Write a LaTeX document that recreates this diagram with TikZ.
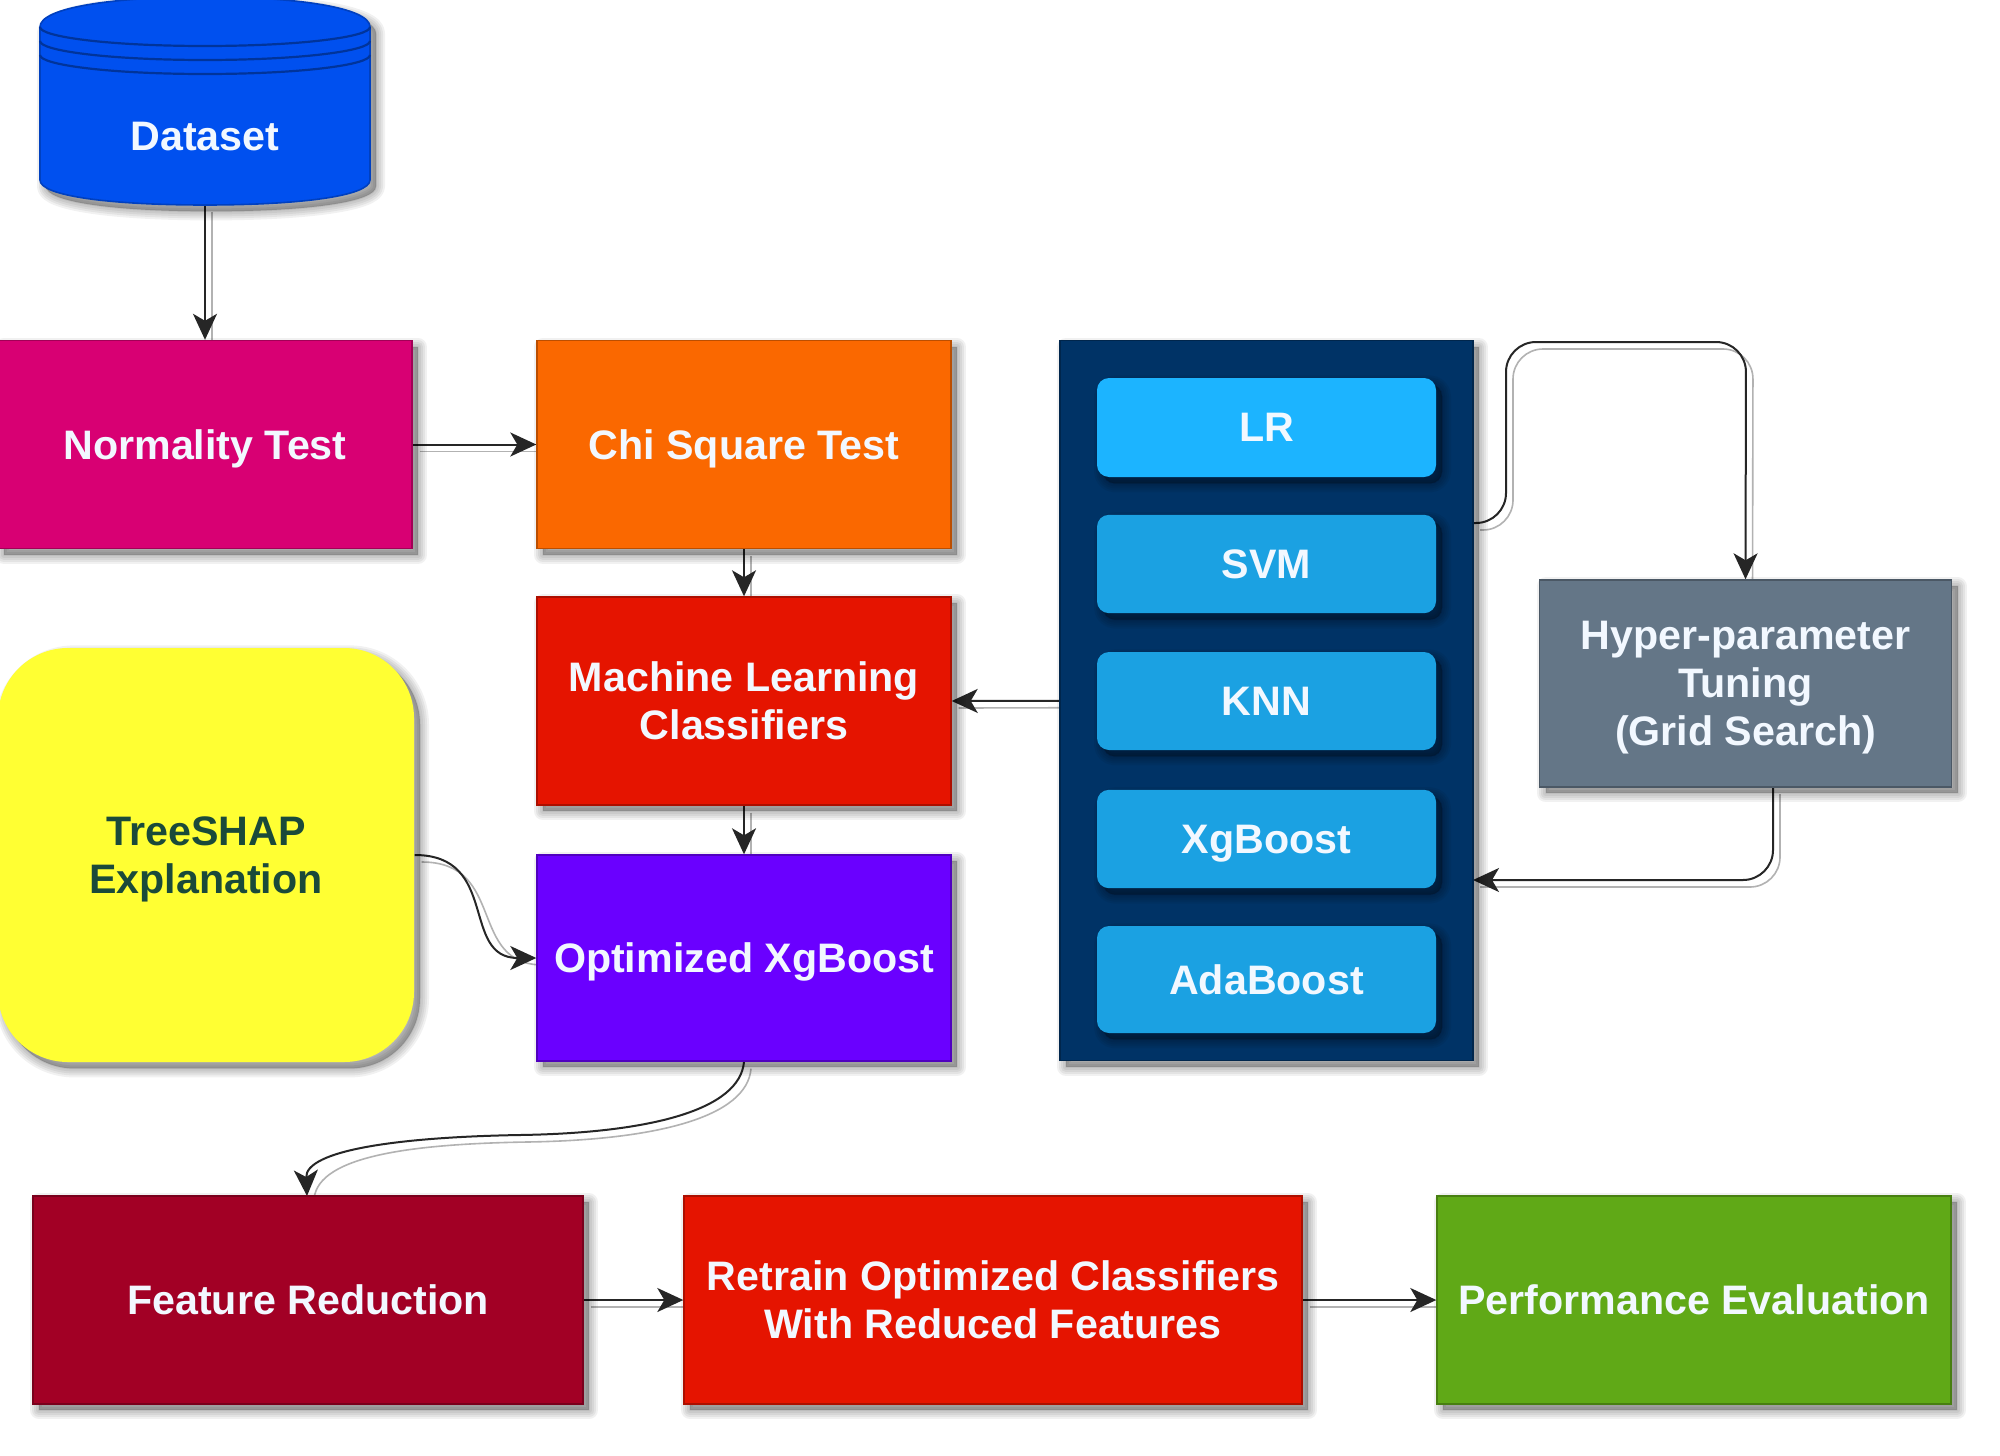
\documentclass[tikz,border=0pt]{standalone}
\usepackage{fontspec}
\setmainfont{Liberation Sans}
\usetikzlibrary{arrows.meta}
\pgfdeclarelayer{bg}
\pgfsetlayers{bg,main}
\definecolor{cBlue}{HTML}{0050EF}
\definecolor{cPink}{HTML}{D80073}
\definecolor{cOrange}{HTML}{FA6800}
\definecolor{cRed}{HTML}{E51400}
\definecolor{cViolet}{HTML}{6A00FF}
\definecolor{cYellow}{HTML}{FFFF33}
\definecolor{cNavy}{HTML}{003366}
\definecolor{cSky}{HTML}{1BA1E2}
\definecolor{cSkyB}{HTML}{1CB4FF}
\definecolor{cSlate}{HTML}{647687}
\definecolor{cWine}{HTML}{A20025}
\definecolor{cGreen}{HTML}{60A917}
\definecolor{cTextW}{HTML}{F2F8FF}
\definecolor{cTextD}{HTML}{1A4A3A}
\tikzset{
  shadlayer/.style={preaction={draw=black,fill=black,draw opacity=.055,fill opacity=.055,line width=#1,line join=round,
     transform canvas={xshift=3pt,yshift=-3.2pt}}},
  shad/.style={shadlayer=9pt,shadlayer=7pt,shadlayer=5pt,shadlayer=3pt,shadlayer=1pt},
  boxstyle/.style={line width=.7pt,draw=#1!75!black,fill=#1,shad,inner sep=0pt,align=center,
     text=cTextW,font=\fontsize{20.6}{24}\selectfont\bfseries},
  itemstyle/.style={boxstyle=#1,draw=none,rounded corners=6pt,minimum width=169.5pt},
  arr/.style={draw=black!85,line width=1pt,-{Stealth[length=13pt,width=12pt,inset=3.5pt]},
     preaction={draw=black!30,line width=.8pt,arrows=-,transform canvas={xshift=3.5pt,yshift=-3.5pt}}},
  cyl/.style={draw=#1,line width=1.1pt}
}
\begin{document}
\begin{tikzpicture}[x=0.5pt,y=-0.5pt]
\begin{pgfonlayer}{bg}
\fill[white] (0,0) rectangle (2000,1455);
\end{pgfonlayer}
\useasboundingbox (0,0) rectangle (2000,1455);
% dataset cylinder: body with soft shadow, rims
\path[shad,fill=cBlue,draw=cBlue!80!black,line width=.8pt] (40,27) .. controls (40,8) and (110,-3) .. (205,-3) .. controls (300,-3) and (370,8) .. (370,27) -- (370,180) .. controls (370,196) and (300,205) .. (205,205) .. controls (110,205) and (40,196) .. (40,180) -- cycle;
\draw[cyl=cBlue!65!black] (40,27) .. controls (40,37) and (110,46) .. (205,46) .. controls (300,46) and (370,37) .. (370,27);
\draw[cyl=cBlue!65!black] (40,41) .. controls (40,51) and (110,60) .. (205,60) .. controls (300,60) and (370,51) .. (370,41);
\draw[cyl=cBlue!65!black] (40,55) .. controls (40,65) and (110,74) .. (205,74) .. controls (300,74) and (370,65) .. (370,55);
\node[text=cTextW,font=\fontsize{20.6}{24}\selectfont\bfseries,inner sep=0pt] (data) at (205,137) {Dataset};
\coordinate (dataOut) at (205,205);
% boxes
\node[boxstyle=cPink,text depth=0pt,minimum width=207pt,minimum height=104pt] (norm) at (205,444.5) {Normality Test};
\node[boxstyle=cOrange,text depth=0pt,minimum width=207pt,minimum height=104pt] (chi) at (744,444.5) {Chi Square Test};
\node[boxstyle=cRed,minimum width=207pt,minimum height=104pt] (ml) at (744,701) {Machine Learning\\Classifiers};
\node[boxstyle=cViolet,text depth=0pt,minimum width=207pt,minimum height=103pt] (opt) at (744,958) {Optimized XgBoost};
\node[boxstyle=cYellow,text=cTextD,text depth=0pt,draw=none,rounded corners=35pt,minimum width=208pt,minimum height=207pt] (tree) at (206,855) {TreeSHAP\\Explanation};
\node[boxstyle=cNavy,minimum width=206.5pt,minimum height=360pt] (panel) at (1266.5,700.75) {};
\node[itemstyle=cSkyB,minimum height=49.5pt] (lr) at (1266.5,427.5) {LR};
\node[itemstyle=cSky,minimum height=49.2pt] (svm) at (1266.5,564) {SVM};
\node[itemstyle=cSky,minimum height=49pt] (knn) at (1266.5,701) {KNN};
\node[itemstyle=cSky,text depth=0pt,minimum height=49.2pt] (xg) at (1266.5,839) {XgBoost};
\node[itemstyle=cSky,minimum height=53.5pt] (ada) at (1266.5,979.5) {AdaBoost};
\node[boxstyle=cSlate,text depth=0pt,minimum width=206pt,minimum height=103.5pt] (hyper) at (1745.5,683.5) {Hyper-parameter\\Tuning\\(Grid Search)};
\node[boxstyle=cWine,minimum width=275pt,minimum height=104pt] (feat) at (308,1300) {Feature Reduction};
\node[boxstyle=cRed,minimum width=309pt,minimum height=104pt] (retrain) at (993,1300) {Retrain Optimized Classifiers\\With Reduced Features};
\node[boxstyle=cGreen,minimum width=257pt,minimum height=104pt] (perf) at (1694,1300) {Performance Evaluation};
% connectors
\coordinate (pOut) at (1473,523);
\coordinate (pIn) at (1473,880);
\coordinate (hOut) at (1773,787);
\coordinate (fIn) at (307,1196);
\begin{pgfonlayer}{bg}
\path[arr] (dataOut) -- (norm.north);
\path[arr] (norm.east) -- (chi.west);
\path[arr] (chi.south) -- (ml.north);
\path[arr] (ml.south) -- (opt.north);
\path[arr] (panel.west) -- (ml.east);
\path[arr] (feat.east) -- (retrain.west);
\path[arr] (retrain.east) -- (perf.west);
\path[arr] (tree.east) .. controls (500,855) and (460,958) .. (opt.west);
\path[arr] (opt.south) .. controls (740,1110) and (650,1133) .. (520,1135) .. controls (400,1137) and (305,1150) .. (fIn);
\path[arr,rounded corners=15pt] (pOut) -- (1506,523) -- (1506,342) -- (1746,342) -- (hyper.north);
\path[arr,rounded corners=15pt] (hOut) -- (1773,880) -- (pIn);
\end{pgfonlayer}
\end{tikzpicture}
\end{document}
